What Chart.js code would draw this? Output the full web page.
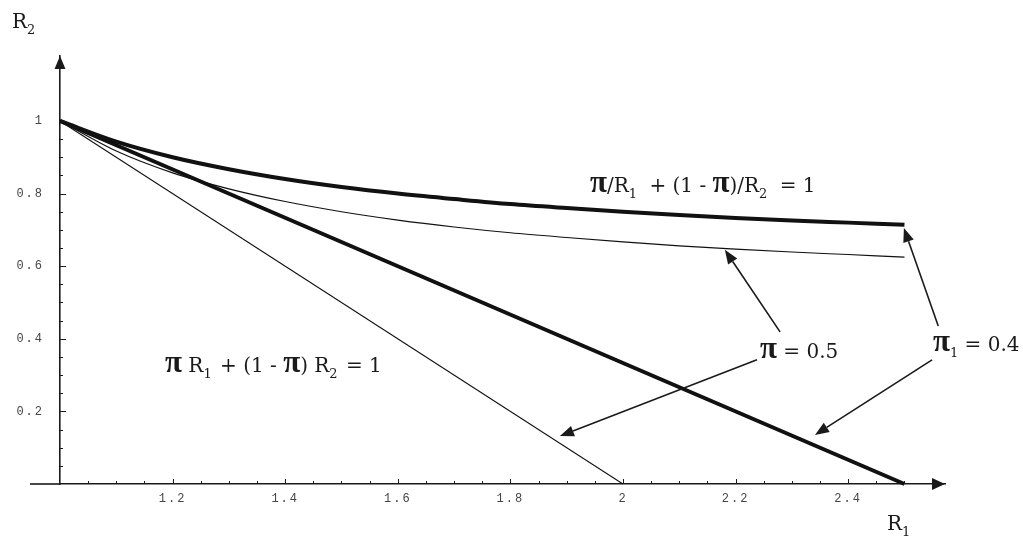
<!DOCTYPE html>
<html>
<head>
<meta charset="utf-8">
<script src="https://cdn.jsdelivr.net/npm/chart.js@4.4.1/dist/chart.umd.min.js"></script>
<style>
  html, body { margin: 0; padding: 0; background: #ffffff; }
  #wrap { width: 1023px; height: 545px; position: relative; }
</style>
</head>
<body>
<div id="wrap"><canvas id="c"></canvas></div>
<script>
// ---- data ----
const r1Grid      = [1.0, 1.1, 1.2, 1.3, 1.4, 1.5, 1.6, 1.7, 1.8, 1.9, 2.0, 2.1, 2.2, 2.3, 2.4, 2.5];
const harmonicPi04 = [1.000, 0.943, 0.900, 0.867, 0.840, 0.818, 0.800, 0.785, 0.771, 0.760, 0.750, 0.741, 0.733, 0.726, 0.720, 0.714];
const harmonicPi05 = [1.000, 0.917, 0.857, 0.813, 0.778, 0.750, 0.727, 0.708, 0.692, 0.679, 0.667, 0.656, 0.647, 0.639, 0.632, 0.625];
const linearPi04R1 = [1.0, 2.5];
const linearPi04R2 = [1.0, 0.0];
const linearPi05R1 = [1.0, 2.0];
const linearPi05R2 = [1.0, 0.0];

const xTickValues = [1.2, 1.4, 1.6, 1.8, 2.0, 2.2, 2.4];
const xTickLabels = ['1.2', '1.4', '1.6', '1.8', '2', '2.2', '2.4'];
const yTickValues = [0.2, 0.4, 0.6, 0.8, 1.0];
const yTickLabels = ['0.2', '0.4', '0.6', '0.8', '1'];

// annotation arrows (data units): from -> tip
const arrowFromX = [2.279, 2.238, 2.560, 2.549];
const arrowFromY = [0.419, 0.342, 0.435, 0.342];
const arrowToX   = [2.181, 1.888, 2.499, 2.341];
const arrowToY   = [0.645, 0.132, 0.705, 0.135];

// ---- helpers ----
function pts(xs, ys) { return xs.map((x, i) => ({ x: x, y: ys[i] })); }

const SERIF = '"DejaVu Serif", "Liberation Serif", serif';
const STY = {
  n: { font: '20px ' + SERIF, dy: 0 },
  p: { font: 'bold 31px "Liberation Serif", serif', dy: 0 },
  s: { font: '13px ' + SERIF, dy: 6 }
};
function rich(ctx, x, y, parts) {
  let cx = x;
  for (const [t, k, extra] of parts) {
    const st = STY[k];
    ctx.font = st.font;
    ctx.fillText(t, cx, y + st.dy);
    cx += ctx.measureText(t).width + (extra || 0);
  }
}

const texts = [
  { x: 590, y: 192, parts: [['π','p'],['/R','n'],['1','s',6],[' + (1 - ','n'],['π','p'],[')/R','n'],['2','s',6],[' = 1','n']] },
  { x: 165, y: 372, parts: [['π','p'],[' R','n'],['1','s',2],[' + (1 - ','n'],['π','p'],[') R','n'],['2','s',2],[' = 1','n']] },
  { x: 760, y: 358, parts: [['π','p'],[' = 0.5','n']] },
  { x: 933, y: 351, parts: [['π','p'],['1','s'],[' = 0.4','n']] },
  { x: 12,  y: 28,  parts: [['R','n'],['2','s']] },
  { x: 887, y: 530, parts: [['R','n'],['1','s']] }
];

const overlay = {
  id: 'overlay',
  beforeDraw(chart) { chart.ctx.letterSpacing = '2px'; },
  beforeDatasetsDraw(chart) { chart.ctx.letterSpacing = '0px'; },
  afterDraw(chart) {
    const ctx = chart.ctx;
    const xs = chart.scales.x, ys = chart.scales.y;
    const ax = xs.getPixelForValue(1), ay = ys.getPixelForValue(0);
    ctx.save();
    ctx.letterSpacing = '0px';
    ctx.strokeStyle = '#1a1a1a';
    ctx.fillStyle = '#1a1a1a';
    // x axis extension to the left
    ctx.lineWidth = 1.6;
    ctx.beginPath(); ctx.moveTo(30, ay); ctx.lineTo(ax, ay); ctx.stroke();
    // tick marks
    ctx.lineWidth = 1;
    for (let k = 1; k <= 30; k++) {
      const v = 1 + k * 0.05;
      const major = (k % 4 === 0);
      const px = Math.round(xs.getPixelForValue(v)) + 0.5;
      ctx.beginPath(); ctx.moveTo(px, ay); ctx.lineTo(px, ay - (major ? 5 : 3)); ctx.stroke();
    }
    for (let k = 1; k <= 20; k++) {
      const v = k * 0.05;
      const major = (k % 4 === 0) || k === 20;
      const py = Math.round(ys.getPixelForValue(v)) + 0.5;
      ctx.beginPath(); ctx.moveTo(ax, py); ctx.lineTo(ax + (major ? 6 : 3), py); ctx.stroke();
    }
    // axis arrowheads
    const xr = xs.right, yt = ys.top;
    ctx.beginPath(); ctx.moveTo(xr, ay); ctx.lineTo(xr - 13, ay - 6); ctx.lineTo(xr - 13, ay + 6); ctx.closePath(); ctx.fill();
    ctx.beginPath(); ctx.moveTo(ax, yt); ctx.lineTo(ax - 5.5, yt + 13); ctx.lineTo(ax + 5.5, yt + 13); ctx.closePath(); ctx.fill();
    // annotation arrows
    for (let i = 0; i < arrowFromX.length; i++) {
      const x1 = xs.getPixelForValue(arrowFromX[i]), y1 = ys.getPixelForValue(arrowFromY[i]);
      const x2 = xs.getPixelForValue(arrowToX[i]), y2 = ys.getPixelForValue(arrowToY[i]);
      const a = Math.atan2(y2 - y1, x2 - x1);
      const L = 14, W = 5.5;
      const bx = x2 - L * Math.cos(a), by = y2 - L * Math.sin(a);
      ctx.lineWidth = 1.6;
      ctx.beginPath(); ctx.moveTo(x1, y1); ctx.lineTo(bx, by); ctx.stroke();
      ctx.beginPath();
      ctx.moveTo(x2, y2);
      ctx.lineTo(bx + W * Math.sin(a), by - W * Math.cos(a));
      ctx.lineTo(bx - W * Math.sin(a), by + W * Math.cos(a));
      ctx.closePath(); ctx.fill();
    }
    // text labels
    ctx.fillStyle = '#1a1a1a';
    ctx.textAlign = 'left';
    ctx.textBaseline = 'alphabetic';
    for (const t of texts) rich(ctx, t.x, t.y, t.parts);
    ctx.restore();
  }
};

const ds = (data, width, curved) => ({
  data: data,
  borderColor: '#111111',
  borderWidth: width,
  pointRadius: 0,
  pointHoverRadius: 0,
  fill: false,
  showLine: true,
  clip: false,
  cubicInterpolationMode: curved ? 'monotone' : 'default',
  tension: 0,
  borderCapStyle: 'butt',
  borderJoinStyle: 'round'
});

new Chart(document.getElementById('c'), {
  type: 'scatter',
  data: {
    datasets: [
      ds(pts(r1Grid, harmonicPi04), 4, true),
      ds(pts(r1Grid, harmonicPi05), 1.1, true),
      ds(pts(linearPi04R1, linearPi04R2), 4, false),
      ds(pts(linearPi05R1, linearPi05R2), 1.1, false)
    ]
  },
  options: {
    responsive: true,
    maintainAspectRatio: false,
    animation: false,
    events: [],
    layout: { padding: { top: 56, right: 78, left: 0, bottom: 0 } },
    plugins: { legend: { display: false }, tooltip: { enabled: false } },
    scales: {
      x: {
        type: 'linear',
        min: 1,
        max: 2.572,
        afterFit: s => { s.height = 61; },
        afterBuildTicks: s => { s.ticks = xTickValues.map(v => ({ value: v })); },
        grid: { display: false, drawTicks: false },
        border: { display: true, color: '#1a1a1a', width: 1.6 },
        ticks: {
          padding: 8,
          autoSkip: false,
          maxRotation: 0,
          color: '#444444',
          font: { family: '"Liberation Mono", "DejaVu Sans Mono", monospace', size: 12 },
          callback: v => { const i = xTickValues.findIndex(t => Math.abs(t - v) < 1e-6); return i >= 0 ? xTickLabels[i] : ''; }
        }
      },
      y: {
        type: 'linear',
        min: 0,
        max: 1.179,
        afterFit: s => { s.width = 60; },
        afterBuildTicks: s => { s.ticks = yTickValues.map(v => ({ value: v })); },
        grid: { display: false, drawTicks: false },
        border: { display: true, color: '#1a1a1a', width: 1.6 },
        ticks: {
          padding: 16,
          autoSkip: false,
          color: '#444444',
          font: { family: '"Liberation Mono", "DejaVu Sans Mono", monospace', size: 12 },
          callback: v => { const i = yTickValues.findIndex(t => Math.abs(t - v) < 1e-6); return i >= 0 ? yTickLabels[i] : ''; }
        }
      }
    }
  },
  plugins: [overlay]
});
</script>
</body>
</html>
